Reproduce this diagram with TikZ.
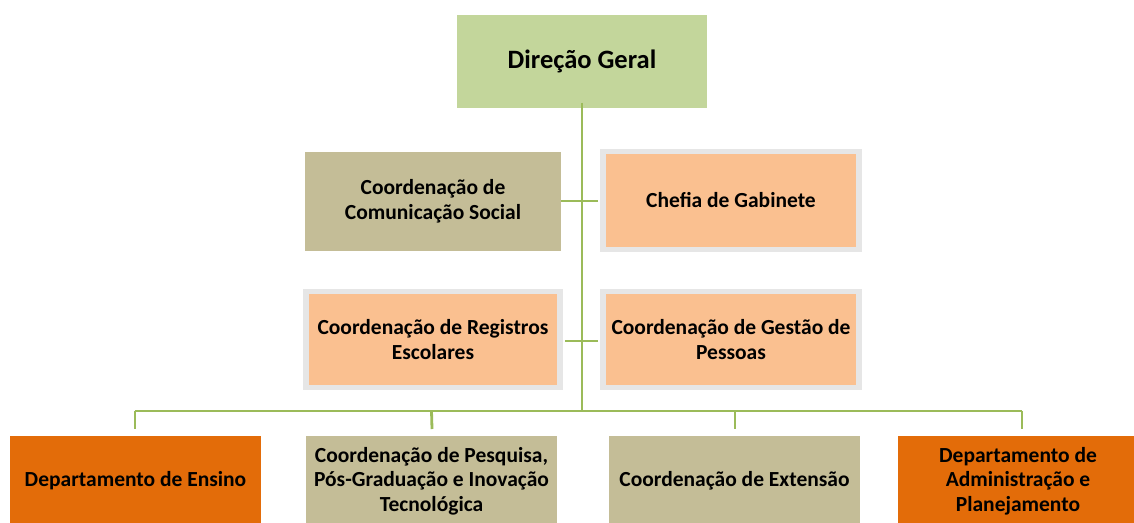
\documentclass[tikz,border=0pt]{standalone}
\usepackage{fontspec}
\setmainfont{Carlito}
\definecolor{lgreen}{HTML}{C3D69B}
\definecolor{ltan}{HTML}{C4BD97}
\definecolor{lpeach}{HTML}{FAC090}
\definecolor{dorange}{HTML}{E36C09}
\definecolor{lnk}{HTML}{9BBB59}
\definecolor{brd}{HTML}{E6E6E6}
\tikzset{
  box/.style={inner sep=0pt, align=center, font=\bfseries\fontsize{21.5}{24.5}\selectfont, text=black},
  topbox/.style={box, fill=lgreen, minimum width=250pt, minimum height=93pt, font=\bfseries\fontsize{26.5}{30}\selectfont},
  tanbox/.style={box, fill=ltan},
  peachbox/.style={box, fill=lpeach, draw=brd, line width=5.5pt},
  orbox/.style={box, fill=dorange},
  lnkline/.style={draw=lnk, line width=2.8pt},
}
\begin{document}
\begin{tikzpicture}[x=1pt,y=-1pt]
\clip (0,0) rectangle (1134,522);
\fill[white] (0,0) rectangle (1134,522);
% top
\node[topbox] (dg) at (582,61) {Direção Geral};
% middle
\node[tanbox, minimum width=256pt, minimum height=99pt] (com) at (433,201.5) {Coordenação de\\Comunicação Social};
\node[peachbox, minimum width=256pt, minimum height=98pt] (chefia) at (731,200.5) {Chefia de Gabinete};
\node[peachbox, minimum width=254pt, minimum height=96pt] (reg) at (433,339.5) {Coordenação de Registros\\Escolares};
\node[peachbox, minimum width=256pt, minimum height=96pt] (gp) at (731,339.5) {Coordenação de Gestão de\\Pessoas};
% bottom
\node[orbox, minimum width=251pt, minimum height=90pt] (ens) at (135.5,481) {Departamento de Ensino};
\node[tanbox, minimum width=251pt, minimum height=90pt] (pesq) at (431.5,481) {Coordenação de Pesquisa,\\Pós-Graduação e Inovação\\Tecnológica};
\node[tanbox, minimum width=251pt, minimum height=90pt] (ext) at (734.5,481) {Coordenação de Extensão};
\node[orbox, minimum width=240pt, minimum height=90pt] (adm) at (1018,481) {Departamento de\\Administração e\\Planejamento};
% connectors
\coordinate (bus) at (582,411);
\coordinate (busl) at (135,411);
\coordinate (busr) at (1022,411);
\path[lnkline] ([yshift=5pt]dg.south) -- (bus);
\path[lnkline] (com.east |- 0,201) -- ([xshift=-2.5pt]chefia.west |- 0,201);
\path[lnkline] ([xshift=2.5pt]reg.east |- 0,341) -- ([xshift=-2.5pt]gp.west |- 0,341);
\path[lnkline] (busl) -- (busr);
\path[lnkline] (busl) -- (busl |- 0,429);
\path[lnkline] (pesq.north |- bus) -- (432,429);
\path[lnkline] (735,411) -- (735,429);
\path[lnkline] (busr) -- (busr |- 0,429);
\end{tikzpicture}
\end{document}
